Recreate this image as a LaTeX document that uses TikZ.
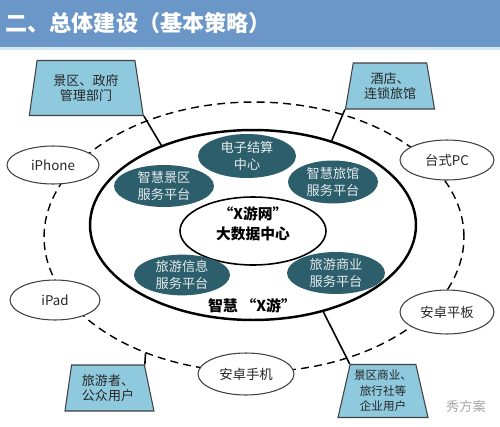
\documentclass[tikz,border=0pt]{standalone}
\usepackage{fontspec}
\setmainfont{Noto Sans CJK SC}
\usetikzlibrary{shapes.geometric}

\definecolor{titleblue}{RGB}{106,150,200}
\definecolor{stripblue}{RGB}{214,234,244}
\definecolor{platteal}{RGB}{44,94,108}
\definecolor{partyblue}{RGB}{142,201,222}

\begin{document}
\begin{tikzpicture}[x=0.02cm,y=-0.02cm,
    device/.style={ellipse,draw=black!75,line width=0.6pt,fill=white,inner sep=0pt,
        text=black!85,font=\fontsize{7.6}{9}\selectfont},
    platform/.style={ellipse,fill=platteal,text=white!88!platteal,inner sep=0pt,
        align=center,font=\fontsize{7.5}{9.4}\selectfont},
    party/.style={trapezium,trapezium stretches body,draw=black!75,line width=0.6pt,
        fill=partyblue,inner sep=1pt,align=center,text=black!85,
        font=\fontsize{7.4}{8.9}\selectfont}]
    \useasboundingbox (0,0) rectangle (500,426);

    % title bar
    \fill[titleblue] (0,0) rectangle (500,47);
    \fill[stripblue] (0,47) rectangle (500,50);
    \node[anchor=west,text=white,font=\fontsize{12.6}{14}\selectfont\bfseries,inner sep=0pt]
        (title) at (5,23) {二、总体建设（基本策略）};

    % rings
    \node[ellipse,draw,dashed,dash pattern=on 4.5pt off 3pt,line width=0.8pt,inner sep=0pt,
        minimum width=8.4cm,minimum height=5.4cm] (outer) at (254,237) {};
    \node[ellipse,draw,line width=1.4pt,inner sep=0pt,
        minimum width=6.52cm,minimum height=3.8cm] (ring) at (253,225) {};
    \node[ellipse,draw,line width=0.9pt,fill=white,inner sep=0pt,
        minimum width=2.92cm,minimum height=1.36cm] (core) at (253,231) {};
    \node[align=center,font=\fontsize{8.4}{11.3}\selectfont\bfseries] (hub) at (253,224)
        {“X游网”\\大数据中心};

    % platforms
    \node[platform,minimum width=1.96cm,minimum height=0.88cm] (settle) at (247,156) {电子结算\\中心};
    \node[platform,minimum width=2.0cm,minimum height=0.84cm] (scenic) at (164,186) {智慧景区\\服务平台};
    \node[platform,minimum width=1.8cm,minimum height=0.86cm] (hotel) at (333,182) {智慧旅馆\\服务平台};
    \node[platform,minimum width=1.92cm,minimum height=0.8cm] (info) at (182,275) {旅游信息\\服务平台};
    \node[platform,minimum width=1.96cm,minimum height=0.84cm] (biz) at (336,273) {旅游商业\\服务平台};
    \node[font=\fontsize{8.5}{10}\selectfont\bfseries] (smart) at (252,306) {智慧 “X游”};

    % devices
    \node[device,minimum width=1.84cm,minimum height=0.76cm] (iphone) at (53,165) {iPhone};
    \node[device,minimum width=1.88cm,minimum height=0.8cm] (pc) at (447,160) {台式PC};
    \node[device,minimum width=1.8cm,minimum height=0.8cm] (ipad) at (55,300) {iPad};
    \node[device,minimum width=1.88cm,minimum height=0.88cm] (pad) at (447,312) {安卓平板};
    \node[device,minimum width=1.92cm,minimum height=0.84cm] (phone) at (246,374) {安卓手机};

    % users
    \node[party,trapezium left angle=76,trapezium right angle=75,
        minimum width=2.28cm,minimum height=1.1cm] (gov) at (86,88) {景区、政府\\管理部门};
    \node[party,trapezium left angle=76,trapezium right angle=76,
        minimum width=1.78cm,minimum height=0.92cm] (inn) at (390,86) {酒店、\\连锁旅馆};
    \node[party,trapezium left angle=78,trapezium right angle=73,
        minimum width=1.78cm,minimum height=0.92cm] (tourist) at (108,388) {旅游者、\\公众用户};
    \node[party,trapezium left angle=75,trapezium right angle=75,
        minimum width=1.8cm,minimum height=1.06cm,
        font=\fontsize{6.6}{8.8}\selectfont] (corp) at (383,391) {景区商业、\\旅行社等\\企业用户};

    \draw[line width=0.9pt] (gov.bottom right corner) -- (ring.139);
    \draw[line width=0.9pt] (inn.bottom left corner) -- (ring.47);
    \draw[line width=0.9pt] (tourist.top right corner) -- (outer.227);
    \draw[line width=0.9pt] (corp.top left corner) -- (ring.-51);

    \node[text=black!35,font=\fontsize{7.5}{9}\selectfont] (mark) at (466,406) {秀方案};
\end{tikzpicture}
\end{document}
